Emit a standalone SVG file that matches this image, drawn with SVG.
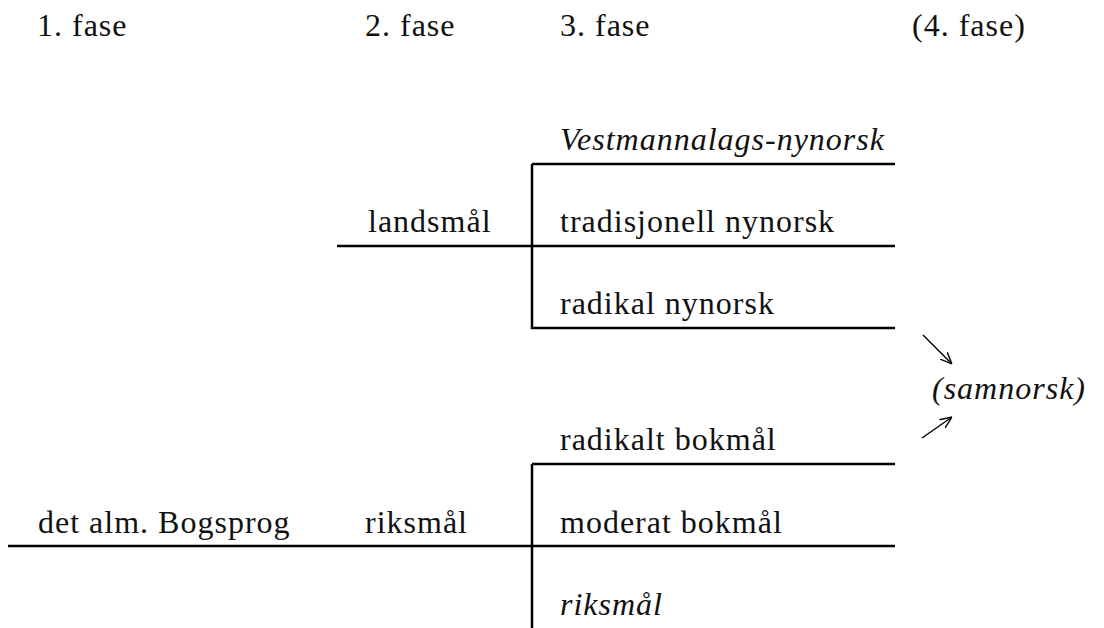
<svg xmlns="http://www.w3.org/2000/svg" width="1104" height="628" viewBox="0 0 1104 628">
<defs>
<style>
text{font-family:"Liberation Serif","DejaVu Serif",serif;font-size:32px;letter-spacing:1px;fill:#111}
.i{font-style:italic}
.ln{stroke:#000;stroke-width:2.5;fill:none}
.ar{stroke:#000;stroke-width:1.4;fill:none}
</style>
<marker id="ah" viewBox="0 0 12 12" refX="12" refY="6" markerWidth="12" markerHeight="12" markerUnits="userSpaceOnUse" orient="auto"><path d="M0,1 L12,6 L0,11" fill="none" stroke="#000" stroke-width="1.4"/></marker>
</defs>
<rect width="1104" height="628" fill="#fff"/>
<g id="headers">
<text x="37" y="36">1. fase</text>
<text x="365" y="36">2. fase</text>
<text x="560" y="36">3. fase</text>
<text x="912" y="36">(4. fase)</text>
</g>
<g id="connectors">
<path class="ln" d="M532,164 H895 M532,164 V328 H895 M337,246 H895"/>
<path class="ln" d="M532,464 H895 M532,464 V628 M8,546 H895"/>
<line class="ar" x1="923" y1="335" x2="952" y2="364" marker-end="url(#ah)"/>
<line class="ar" x1="922" y1="438" x2="952" y2="417" marker-end="url(#ah)"/>
</g>
<g id="n-vestmannalags"><text class="i" x="560" y="150">Vestmannalags-nynorsk</text></g>
<g id="n-landsmal"><text x="368" y="232">landsmål</text></g>
<g id="n-tradisjonell"><text x="560" y="232">tradisjonell nynorsk</text></g>
<g id="n-radikal-nynorsk"><text x="560" y="314">radikal nynorsk</text></g>
<g id="n-samnorsk"><text class="i" x="932" y="399">(samnorsk)</text></g>
<g id="n-radikalt-bokmal"><text x="560" y="450">radikalt bokmål</text></g>
<g id="n-bogsprog"><text x="38" y="533">det alm. Bogsprog</text></g>
<g id="n-riksmal-2"><text x="365" y="533">riksmål</text></g>
<g id="n-moderat"><text x="560" y="533">moderat bokmål</text></g>
<g id="n-riksmal-3"><text class="i" x="560" y="615">riksmål</text></g>
</svg>
